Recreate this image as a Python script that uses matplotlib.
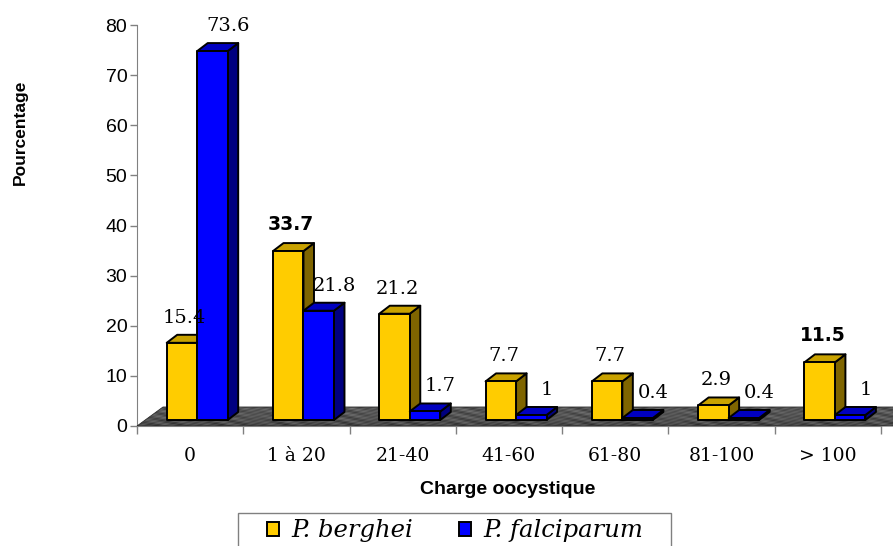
import numpy as np
import matplotlib.pyplot as plt
from matplotlib.patches import Polygon, Patch, Rectangle

# ===== data =====
categories = ["0", "1 à 20", "21-40", "41-60", "61-80", "81-100", "> 100"]
berghei = [15.4, 33.7, 21.2, 7.7, 7.7, 2.9, 11.5]
falciparum = [73.6, 21.8, 1.7, 1, 0.4, 0.4, 1]
series_names = ["P. berghei", "P. falciparum"]
# labels drawn in bold (series index, category index)
bold_labels = [(0, 1), (0, 6)]

# ===== colours (front, top, side) =====
yellow = ("#FFCC00", "#C9A200", "#7F6500")
blue = ("#0000FF", "#0000C0", "#000080")

W, H = 893, 546
fig = plt.figure(figsize=(W / 100, H / 100), dpi=100)

# axes box in pixels: x 137..881, y 25..426
ax_l, ax_r, ax_t, ax_b = 137, 881, 25, 426
ax = fig.add_axes([ax_l / W, (H - ax_b) / H, (ax_r - ax_l) / W, (ax_b - ax_t) / H])
ncat = len(categories)

sx = ncat / (ax_r - ax_l)      # data units per pixel (x)
sy = 80 / (ax_b - ax_t)        # data units per pixel (y)

# 3D geometry (pixels)
gap_left = 29.7
bar_w = 30.5
dep_x, dep_y = 10.5, 8.0
lift = 6.0
floor_x, floor_y = 26.0, 19.0

# ----- floor (granite-like texture) -----
fx, fy = floor_x * sx, floor_y * sy
x_end = ncat + 0.3
floor = Polygon([(0, 0), (x_end, 0), (x_end + fx, fy), (fx, fy)],
                closed=True, facecolor="none", edgecolor="#2a2a2a",
                linewidth=0.6, clip_on=False, zorder=2)
ax.add_patch(floor)
gx = np.linspace(0, 900, 900)
gy = np.linspace(0, 20, 20)
GX, GY = np.meshgrid(gx, gy)
tex = (0.34 + 0.07 * np.sin(GX * 0.21 + GY * 0.9) * np.sin(GX * 0.047)
       + 0.05 * np.sin(GX * 0.53 - GY * 1.7) - 0.07 * (1 - GY / 20) ** 3)
im = ax.imshow(tex, cmap="gray", vmin=0, vmax=1, aspect="auto",
               extent=(0, x_end + fx, 0, fy), origin="lower",
               interpolation="bilinear", zorder=1)
im.set_clip_path(floor)
im.set_clip_box(fig.bbox)
ax.set_xlim(0, ncat)
ax.set_ylim(0, 80)


def bar3d(x0, v, cols, z):
    w = bar_w * sx
    dx, dy = dep_x * sx, dep_y * sy
    b = lift * sy
    t = b + v
    front = [(x0, b), (x0 + w, b), (x0 + w, t), (x0, t)]
    top = [(x0, t), (x0 + w, t), (x0 + w + dx, t + dy), (x0 + dx, t + dy)]
    side = [(x0 + w, b), (x0 + w + dx, b + dy), (x0 + w + dx, t + dy), (x0 + w, t)]
    for pts, c in ((side, cols[2]), (top, cols[1]), (front, cols[0])):
        ax.add_patch(Polygon(pts, closed=True, facecolor=c, edgecolor="black",
                             linewidth=1.4, joinstyle="round",
                             clip_on=False, zorder=z))


z = 3
for i in range(ncat):
    x_y = i + gap_left * sx
    x_b = x_y + bar_w * sx
    for s, (x0, v, cols) in enumerate(((x_y, berghei[i], yellow),
                                       (x_b, falciparum[i], blue))):
        bar3d(x0, v, cols, z)
        z += 1
        xc = x0 + bar_w * sx / 2
        yt = lift * sy + v
        off_x = 2 if s == 0 else 11
        if (s, i) in bold_labels:
            ax.annotate(f"{v:g}", (xc, yt), xytext=(off_x, 19), textcoords="offset points",
                        ha="center", va="center", fontsize=13.5, fontweight="bold",
                        family="DejaVu Sans", zorder=50, annotation_clip=False)
        else:
            ax.annotate(f"{v:g}", (xc, yt), xytext=(off_x, 18), textcoords="offset points",
                        ha="center", va="center", fontsize=14,
                        family="DejaVu Serif", zorder=50, annotation_clip=False)

# ----- axes styling -----
for sp in ("top", "right"):
    ax.spines[sp].set_visible(False)
ax.spines["left"].set_color("#808080")
ax.spines["bottom"].set_color("#808080")
ax.spines["left"].set_zorder(0)
ax.spines["bottom"].set_zorder(2)

ax.set_yticks(range(0, 81, 10))
ax.tick_params(axis="y", direction="out", length=5, width=1, color="#808080",
               pad=2, labelsize=14)
for lab in ax.get_yticklabels():
    lab.set_family("Liberation Sans")

ax.set_xticks(range(ncat + 1))
ax.set_xticklabels([])
ax.tick_params(axis="x", which="major", direction="out", length=6, width=1,
               color="#808080")
ax.set_xticks([i + 0.5 for i in range(ncat)], minor=True)
ax.set_xticklabels(categories, minor=True, family="DejaVu Serif", fontsize=13.5)
ax.tick_params(axis="x", which="minor", length=0, pad=15)

fig.text(20 / W, 1 - 132 / H, "Pourcentage", rotation=90, ha="center", va="center",
         fontsize=12.5, fontweight="bold", family="Liberation Sans")
fig.text(508 / W, 1 - 489 / H, "Charge oocystique", ha="center", va="center",
         fontsize=14, fontweight="bold", family="Liberation Sans")

# ----- legend -----
fig.patches.append(Rectangle((238 / W, -0.02), (671 - 238) / W, 0.02 + (H - 513) / H,
                             transform=fig.transFigure, facecolor="white",
                             edgecolor="#808080", linewidth=1.0))
handles = [Patch(facecolor=yellow[0], edgecolor="black", linewidth=1.4),
           Patch(facecolor=blue[0], edgecolor="black", linewidth=1.4)]
leg = fig.legend(handles, series_names, loc="center",
                 bbox_to_anchor=(455 / W, 1 - 531 / H), ncol=2, frameon=False,
                 handlelength=0.5, handleheight=0.5, handletextpad=0.5,
                 columnspacing=1.9, borderaxespad=0, borderpad=0,
                 prop={"family": "DejaVu Serif", "style": "italic", "size": 17.5})

fig.savefig("out.png", dpi=100)
